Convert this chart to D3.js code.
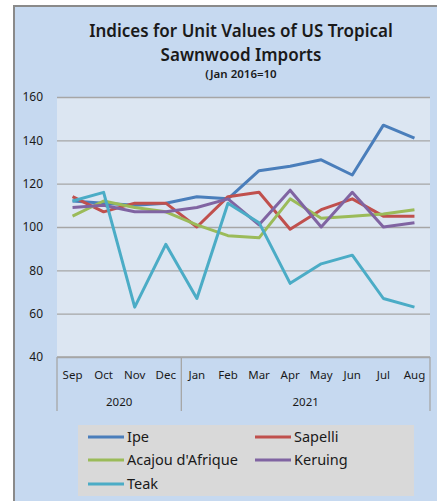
<!DOCTYPE html>
<html>
<head>
<meta charset="utf-8">
<script src="https://cdn.jsdelivr.net/npm/d3@7"></script>
<style>
  body { margin: 0; background: #fff; }
  text { font-family: "Noto Sans", "Open Sans", sans-serif; fill: #1a1a1a; }
</style>
</head>
<body>
<div id="app"></div>
<script>
const months = ["Sep","Oct","Nov","Dec","Jan","Feb","Mar","Apr","May","Jun","Jul","Aug"]
const years = [{label: "2020", from: 0, to: 3}, {label: "2021", from: 4, to: 11}]
const yTicks = [40, 60, 80, 100, 120, 140, 160]

const ipe     = [112, 111, 110, 111, 114, 113, 126, 128, 131, 124, 147, 141]
const sapelli = [114, 107, 111, 111, 100, 114, 116,  99, 108, 113, 105, 105]
const acajou  = [105, 112, 109, 107, 101,  96,  95, 113, 104, 105, 106, 108]
const keruing = [109, 110, 107, 107, 109, 113, 101, 117, 100, 116, 100, 102]
const teak    = [112, 116,  63,  92,  67, 111, 102,  74,  83,  87,  67,  63]

const seriesNames = ["Ipe", "Sapelli", "Acajou d'Afrique", "Keruing", "Teak"]
const seriesVals = [ipe, sapelli, acajou, keruing, teak]
const colors = ["#4a7ebb", "#c0504d", "#9bbb59", "#8064a2", "#4bacc6"]

const w = 437, h = 501
const plotL = 57, plotR = 430, plotT = 97, plotB = 357

const svg = d3.select("#app").append("svg")
    .attr("width", w)
    .attr("height", h)

// outer chart area
svg.append("rect")
    .attr("x", 13).attr("y", 5)
    .attr("width", w - 13).attr("height", h - 5)
    .attr("fill", "#c6d9f0")
svg.append("path")
    .attr("d", `M14,${h} V6 H${w}`)
    .attr("fill", "none")
    .attr("stroke", "#8a8a8a")
    .attr("stroke-width", 2)

// plot area
svg.append("rect")
    .attr("x", plotL).attr("y", plotT)
    .attr("width", plotR - plotL).attr("height", plotB - plotT)
    .attr("fill", "#dce6f2")

const x = d3.scaleBand().domain(d3.range(months.length)).range([plotL, plotR])
const y = d3.scaleLinear().domain([40, 160]).range([plotB, plotT])

// grid + y labels
const yAxis = d3.axisLeft(y).tickValues(yTicks).tickSize(-(plotR - plotL)).tickPadding(14)
const gy = svg.append("g").attr("transform", `translate(${plotL},0)`).call(yAxis)
gy.select(".domain").remove()
gy.selectAll(".tick line").attr("stroke", "#a6a6a6").attr("stroke-width", 1.3)
gy.selectAll(".tick text").style("font-size", "12px").attr("fill", "#222")

// x axis line
svg.append("line")
    .attr("x1", plotL).attr("x2", plotR)
    .attr("y1", plotB).attr("y2", plotB)
    .attr("stroke", "#a6a6a6").attr("stroke-width", 1.3)

// month labels
svg.append("g").selectAll("text")
    .data(months)
    .join("text")
    .attr("x", (d, i) => x(i) + x.bandwidth() / 2)
    .attr("y", 379)
    .attr("text-anchor", "middle")
    .style("font-size", "11.5px")
    .text(d => d)

// year group separators and labels
const seps = [0, 4, 12]
svg.append("g").selectAll("line")
    .data(seps)
    .join("line")
    .attr("x1", d => d < 12 ? x(d) : plotR)
    .attr("x2", d => d < 12 ? x(d) : plotR)
    .attr("y1", plotB).attr("y2", 411)
    .attr("stroke", "#a6a6a6").attr("stroke-width", 1.3)

svg.append("g").selectAll("text")
    .data(years)
    .join("text")
    .attr("x", d => (x(d.from) + x(d.to) + x.bandwidth()) / 2)
    .attr("y", 406)
    .attr("text-anchor", "middle")
    .style("font-size", "11.5px")
    .text(d => d.label)

// lines
const line = d3.line()
    .x((d, i) => x(i) + x.bandwidth() / 2)
    .y(d => y(d))

svg.append("g").selectAll("path")
    .data(seriesVals)
    .join("path")
    .attr("d", d => line(d))
    .attr("fill", "none")
    .attr("stroke", (d, i) => colors[i])
    .attr("stroke-width", 3)
    .attr("stroke-linejoin", "round")

// title
const title = svg.append("g").attr("text-anchor", "middle")
    .style("font-family", "'Open Sans', 'Noto Sans', sans-serif")
    .style("font-weight", "600")
title.append("text").attr("x", 241).attr("y", 37)
    .style("font-size", "17px")
    .text("Indices for Unit Values of US Tropical")
title.append("text").attr("x", 241).attr("y", 61)
    .style("font-size", "17px")
    .text("Sawnwood Imports")
title.append("text").attr("x", 241).attr("y", 78)
    .style("font-size", "11.5px")
    .text("(Jan 2016=10")

// legend
const legend = svg.append("g")
legend.append("rect")
    .attr("x", 78).attr("y", 425)
    .attr("width", 336).attr("height", 71)
    .attr("fill", "#d9d9d9")

const legPos = [[88, 437], [255, 437], [88, 460], [255, 460], [88, 484]]
const items = legend.selectAll("g.item")
    .data(seriesNames)
    .join("g")
    .attr("class", "item")
    .attr("transform", (d, i) => `translate(${legPos[i][0]},${legPos[i][1]})`)
items.append("line")
    .attr("x1", 0).attr("x2", 36)
    .attr("stroke", (d, i) => colors[i])
    .attr("stroke-width", 3)
items.append("text")
    .attr("x", 39).attr("y", 5)
    .style("font-size", "14.5px")
    .text(d => d)
</script>
</body>
</html>
